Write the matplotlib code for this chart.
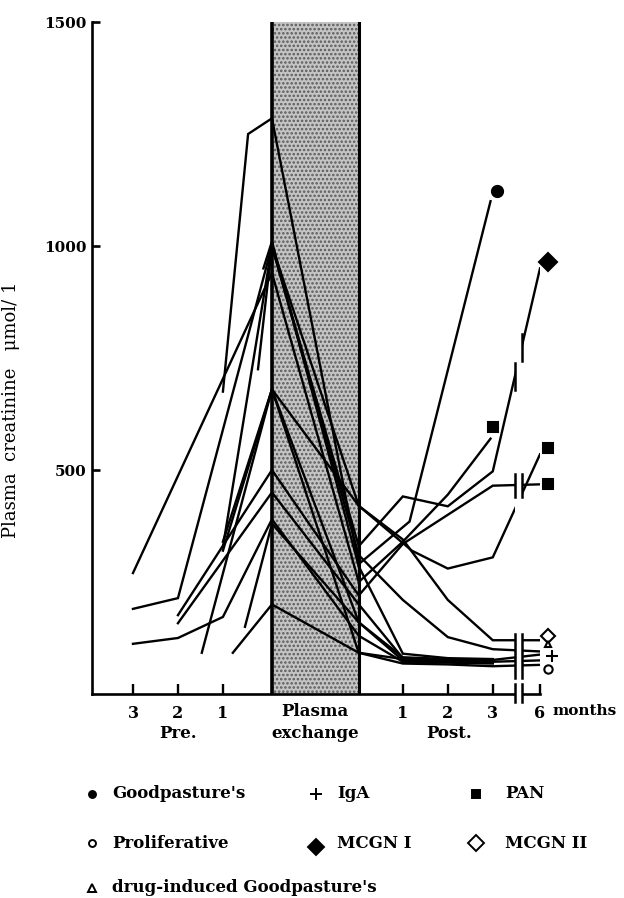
import matplotlib
matplotlib.use("Agg")
import numpy as np
import matplotlib.pyplot as plt

# Plasma creatinine (umol/l) before, during and after plasma exchange.
# Times: negative = months before exchange, "pe0"/"pe1" = start/end of the
# exchange, positive = months after.
goodpasture_t = [-1, -0.44, "pe0", "pe1", 1.15, 2.95]
goodpasture_v = [675, 1250, 1285, 290, 385, 1100]

mcgn1_t = [-3, -2, "pe0", "pe1", 1, 2, 3, 6]
mcgn1_v = [190, 214, 1000, 330, 441, 419, 497, 950]

pan_a_t = [-3, "pe0", "pe1", 1, 2, 2.95]
pan_a_v = [270, 940, 250, 340, 445, 570]

pan_b_t = [-1, "pe0", "pe1", 1.2, 2, 3, 6]
pan_b_v = [320, 680, 420, 320, 280, 305, 535]

pan_c_t = [-2, "pe0", "pe1", 1, 2, 3, 6]
pan_c_v = [176, 500, 220, 335, 400, 465, 468]

mcgn2_t = [-1, "pe0", "pe1", 1, 2, 3, 6]
mcgn2_v = [328, 1000, 420, 345, 210, 120, 120]

other_t = [
    [-0.22, "pe0", "pe1", 1, 2, 3, 6],
    [-1.47, "pe0", "pe1", 1, 2, 3, 6],
    [-1, "pe0", "pe1", 1, 2, 3, 6],
    [-3, -2, -1, "pe0", "pe1", 1, 2, 3],
    [-2, "pe0", "pe1", 1, 2, 3],
    [-0.78, "pe0", "pe1", 1, 2, 3],
    [-0.51, "pe0", "pe1", 1, 2, 3, 6],
    [-0.1, "pe0", "pe1", 1, 2, 3],
]
other_v = [
    [725, 1000, 310, 210, 127, 100, 95],
    [92, 680, 160, 75, 72, 72, 75],
    [340, 680, 92, 68, 66, 62, 65],
    [112, 125, 172, 390, 130, 72, 70, 68],
    [158, 450, 200, 80, 76, 74],
    [92, 200, 92, 78, 72, 70],
    [150, 380, 160, 82, 78, 76, 88],
    [950, 1010, 285, 90, 80, 78],
]

# end-point symbols: (time, value, marker, filled)
end_marks = [
    (3.1, 1123, "o", True),     # Goodpasture's
    (3, 595, "s", True),        # PAN
    (6, 549, "s", True),        # PAN
    (6, 469, "s", True),        # PAN
    (6, 964, "D", True),        # MCGN I
    (6, 130, "D", False),       # MCGN II
    (6, 112, "^", False),       # drug-induced
    (6, 85, "+", True),         # IgA
    (6, 55, "o", False),        # Proliferative
]

legend_items = [
    ("o", True, "Goodpasture's"), ("+", True, "IgA"), ("s", True, "PAN"),
    ("o", False, "Proliferative"), ("D", True, "MCGN I"), ("D", False, "MCGN II"),
    ("^", False, "drug-induced Goodpasture's"),
]

PE0, PE1 = 3.09, 5.02
BREAK = (8.49, 8.64)


def xpos(t):
    # broken time axis: pre months, exchange band, post months, then 6 months
    if t == "pe0":
        return PE0
    if t == "pe1":
        return PE1
    if t < 0:
        return 3 + t
    if t <= 3.2:
        return 5 + t
    return 9.05


plt.rcParams["font.family"] = "DejaVu Serif"
plt.rcParams["font.weight"] = "bold"
plt.rcParams["hatch.linewidth"] = 1.2

fig = plt.figure(figsize=(6.24, 8.98), dpi=100)
ax = fig.add_axes([92 / 624, 204 / 898, 448 / 624, 672 / 898])
ax.set_xlim(-0.911, 9.05)
ax.set_ylim(0, 1500)

# plasma exchange band
ax.axvspan(PE0, PE1, facecolor="#c4c4c4", edgecolor="#5a5a5a", hatch="....", lw=0, zorder=1)
ax.axvline(PE0, color="black", lw=2.6, zorder=2.6)
ax.axvline(PE1, color="black", lw=2.2, zorder=2.6)

all_t = [goodpasture_t, mcgn1_t, pan_a_t, pan_b_t, pan_c_t, mcgn2_t] + other_t
all_v = [goodpasture_v, mcgn1_v, pan_a_v, pan_b_v, pan_c_v, mcgn2_v] + other_v
for ts, vs in zip(all_t, all_v):
    ax.plot([xpos(t) for t in ts], vs, color="black", lw=1.7, zorder=2,
            solid_joinstyle="miter")

# gap for the broken axis
ax.axvspan(BREAK[0], BREAK[1], ymin=-0.03, ymax=1, facecolor="white", lw=0,
           zorder=3, clip_on=False)
for bx in BREAK:
    ax.plot([bx, bx], [35, 135], color="black", lw=1.8, zorder=3.5)
    ax.plot([bx, bx], [440, 490], color="black", lw=1.8, zorder=3.5)
    ax.plot([bx, bx], [-18, 22], color="black", lw=1.8, zorder=3.5, clip_on=False)
    yb = np.interp(bx, [xpos(3), xpos(6)], [mcgn1_v[-2], mcgn1_v[-1]])
    ax.plot([bx, bx], [yb - 30, yb + 30], color="black", lw=1.8, zorder=3.5)

for t, v, m, filled in end_marks:
    dx = 0.17 if t == 6 else 0.0
    if m == "+":
        dx = 0.27
    ms = {"o": 8, "s": 7, "D": 9, "^": 6, "+": 8}[m]
    if not filled:
        ms -= 2
    ax.plot(xpos(t) + dx, v, marker=m, ms=ms, color="black",
            mfc="black" if filled else "white", mew=1.5, zorder=4, clip_on=False)

for s in ["top", "right"]:
    ax.spines[s].set_visible(False)
for s in ["left", "bottom"]:
    ax.spines[s].set_linewidth(1.9)

ax.set_yticks([500, 1000, 1500])
ax.tick_params(axis="y", direction="in", length=6, width=1.9, labelsize=11, pad=4)
ax.set_xticks([0, 1, 2, 6, 7, 8, 9.05])
ax.set_xticklabels(["3", "2", "1", "1", "2", "3", "6"])
ax.tick_params(axis="x", direction="in", length=7, width=1.7, labelsize=11.5, pad=8)

ax.text(1, -88, "Pre.", ha="center", va="center", fontsize=12)
ax.text((PE0 + PE1) / 2, -38, "Plasma", ha="center", va="center", fontsize=12)
ax.text((PE0 + PE1) / 2, -88, "exchange", ha="center", va="center", fontsize=12)
ax.text(7.04, -88, "Post.", ha="center", va="center", fontsize=12)
ax.text(9.33, -38, "months", ha="left", va="center", fontsize=11, clip_on=False)

ax.set_ylabel("Plasma  creatinine   \u03bcmol/ 1", fontsize=13)
ax.yaxis.set_label_coords(-(92 - 20) / 448, (694 - 410) / 672)

# legend laid out in a grid under the plot
leg = fig.add_axes([0, 0, 1, 1], facecolor="none")
leg.set_xlim(0, 624)
leg.set_ylim(898, 0)
leg.axis("off")
cols = [(92, 112), (316, 337), (476, 505)]
rows = [794, 843, 888]
for i, (m, filled, label) in enumerate(legend_items):
    mx, tx = cols[i % 3]
    y = rows[i // 3]
    ms = {"o": 5, "s": 6, "D": 8, "^": 6, "+": 8}[m]
    dy = 4 if (m == "D" and filled) else 0
    leg.plot(mx, y + dy, marker=m, ms=ms, color="black",
             mfc="black" if filled else "white", mew=1.4)
    leg.text(tx, y, label, va="center", ha="left", fontsize=12)

fig.savefig("out.png", dpi=100)
